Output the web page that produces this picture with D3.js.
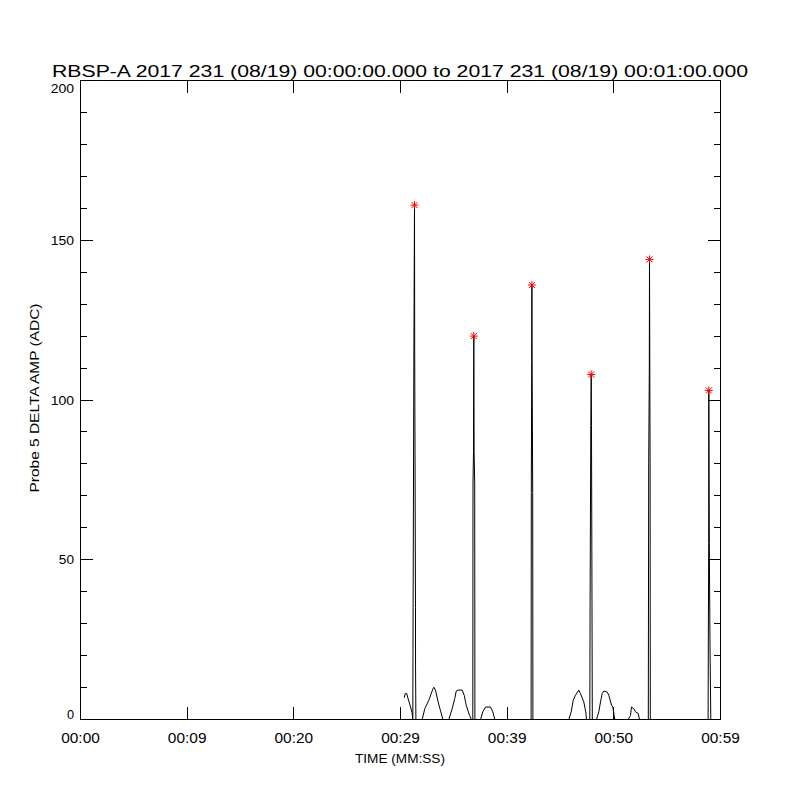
<!DOCTYPE html>
<html>
<head>
<meta charset="utf-8">
<script src="https://cdn.jsdelivr.net/npm/d3@7"></script>
<style>
  html, body { margin: 0; padding: 0; background: #fff; }
  svg { display: block; }
  text { fill: #000; }
</style>
</head>
<body>
<svg id="chart" width="800" height="800"></svg>
<script>
// ---- data (time in seconds from 00:00:00, amplitude in ADC) ----
const titleText = "RBSP-A 2017 231 (08/19) 00:00:00.000 to 2017 231 (08/19) 00:01:00.000";
const xLabel = "TIME (MM:SS)";
const yLabel = "Probe 5 DELTA AMP (ADC)";

const xTickValues = [0, 10, 20, 30, 40, 50, 60];
const xTickLabels = ["00:00", "00:09", "00:20", "00:29", "00:39", "00:50", "00:59"];
const yMajorTicks = [0, 50, 100, 150, 200];
const yMinorTicks = [10, 20, 30, 40, 60, 70, 80, 90, 110, 120, 130, 140, 160, 170, 180, 190];

// waveform trace
const traceTime = [
  30.347, 30.441, 30.591, 30.684, 30.891, 31.078, 31.153,
  31.181, 31.256, 31.313, 31.331, 31.406, 31.410, 31.444,
  32.034, 32.278, 32.653, 33.028, 33.122, 33.281, 33.534, 33.778, 33.966,
  34.528, 34.847, 35.091, 35.222, 35.409, 35.784, 35.972, 36.159, 36.469, 36.656,
  36.778, 36.797, 36.844, 36.872, 36.900, 36.956, 36.975,
  37.500, 37.716, 37.969, 38.438, 38.653, 38.841,
  42.244, 42.263, 42.300, 42.319, 42.338, 42.394, 42.413,
  45.778, 46.003, 46.191, 46.406, 46.716, 46.875, 47.184, 47.372, 47.438,
  47.747, 47.775, 47.841, 47.878, 47.906, 47.953, 47.981,
  48.375, 48.591, 48.750, 48.909, 49.059, 49.378, 49.528, 49.781, 49.903, 50.091,
  51.347, 51.563, 51.656, 51.872, 52.031, 52.284, 52.406,
  53.231, 53.269, 53.325, 53.344, 53.372, 53.400, 53.419,
  58.838, 58.856, 58.894, 58.903, 58.950, 59.016, 59.091
];
const traceValue = [
  6.8, 8.1, 8.1, 6.8, 4.5, 2.2, 0,
  35, 116, 161, 116, 35, 17, 0,
  0, 3.4, 6.0, 9.5, 10.1, 9.2, 5.4, 2.4, 0,
  0, 3.4, 6.6, 8.9, 9.2, 9.2, 7.6, 4.5, 1.3, 0,
  0, 74, 84, 120, 84, 74, 0,
  0, 2.4, 3.9, 3.9, 2.4, 0,
  0, 71, 112, 136, 112, 71, 0,
  0, 2.4, 6.0, 7.6, 9.2, 8.1, 5.5, 2.4, 0,
  0, 37, 92, 108, 92, 37, 0,
  0, 2.4, 5.5, 8.1, 8.9, 8.6, 7.6, 4.5, 3.9, 0,
  0, 1.3, 3.9, 3.4, 2.4, 1.9, 0,
  0, 80, 109, 144, 109, 80, 0,
  0, 23, 55, 103, 55, 23, 0
];

// peak markers
const peakTime = [31.313, 36.872, 42.319, 47.878, 53.344, 58.903];
const peakValue = [161, 120, 136, 108, 144, 103];

// ---- drawing ----
const svg = d3.select("#chart");
const plotLeft = 80, plotRight = 720, plotTop = 80, plotBottom = 719;

const x = d3.scaleLinear().domain([0, 60]).range([plotLeft, plotRight]);
const y = d3.scaleLinear().domain([0, 200]).range([plotBottom, plotTop]);

const font = "'Liberation Sans', 'DejaVu Sans', Arial, sans-serif";

// frame
svg.append("rect")
  .attr("x", plotLeft + 0.5).attr("y", plotTop + 0.5)
  .attr("width", plotRight - plotLeft).attr("height", plotBottom - plotTop)
  .attr("fill", "none").attr("stroke", "#000").attr("stroke-width", 1)
  .attr("shape-rendering", "crispEdges");

function styleAxis(g) {
  g.select(".domain").remove();
  g.selectAll(".tick line").attr("stroke", "#000").attr("shape-rendering", "crispEdges");
}

// bottom axis (major ticks + labels)
const gx = svg.append("g").attr("transform", `translate(0,${plotBottom + 1})`)
  .call(d3.axisBottom(x).tickValues(xTickValues).tickSize(-13)
    .tickFormat((d, i) => xTickLabels[i]))
  .call(styleAxis);
gx.selectAll(".tick text")
  .attr("y", 23).attr("dy", null)
  .attr("font-family", font).attr("font-size", 15)
  .attr("textLength", 38.6).attr("lengthAdjust", "spacingAndGlyphs");

// top axis (ticks only)
svg.append("g").attr("transform", `translate(0,${plotTop})`)
  .call(d3.axisTop(x).tickValues(xTickValues).tickSize(-13).tickFormat(""))
  .call(styleAxis);

// left axis
const gy = svg.append("g").attr("transform", `translate(${plotLeft},0)`)
  .call(d3.axisLeft(y).tickValues(yMajorTicks).tickSize(-13).tickPadding(6)
    .tickFormat(d3.format("d")))
  .call(styleAxis);
gy.selectAll(".tick text")
  .attr("font-family", font).attr("font-size", 12.5)
  .attr("textLength", d => String(d).length * 8.1 - 1)
  .attr("lengthAdjust", "spacingAndGlyphs")
  .attr("dy", d => d === 200 ? "1.0em" : (d === 0 ? "-0.02em" : "0.36em"));

svg.append("g").attr("transform", `translate(${plotLeft},0)`)
  .call(d3.axisLeft(y).tickValues(yMinorTicks).tickSize(-7).tickFormat(""))
  .call(styleAxis);

// right axis (ticks only)
svg.append("g").attr("transform", `translate(${plotRight + 1},0)`)
  .call(d3.axisRight(y).tickValues(yMajorTicks).tickSize(-13).tickFormat(""))
  .call(styleAxis);
svg.append("g").attr("transform", `translate(${plotRight + 1},0)`)
  .call(d3.axisRight(y).tickValues(yMinorTicks).tickSize(-7).tickFormat(""))
  .call(styleAxis);

// trace
const trace = traceTime.map((t, i) => [t, traceValue[i]]);
svg.append("path")
  .datum(trace)
  .attr("d", d3.line().x(d => x(d[0])).y(d => y(d[1])))
  .attr("fill", "none").attr("stroke", "#000").attr("stroke-width", 1)
  .attr("transform", "translate(0.5,0.5)");

// peak markers (asterisks)
const star = "M-4,0H4M0,-4V4M-3,-3L3,3M-3,3L3,-3";
svg.append("g").selectAll("path")
  .data(peakTime.map((t, i) => [t, peakValue[i]]))
  .join("path")
  .attr("transform", d => `translate(${x(d[0]) + 0.5},${y(d[1]) + 0.5})`)
  .attr("d", star)
  .attr("fill", "none").attr("stroke", "#ff0000").attr("stroke-width", 1);

// title
svg.append("text")
  .attr("x", 400).attr("y", 77)
  .attr("text-anchor", "middle")
  .attr("font-family", font).attr("font-size", 16.3)
  .attr("textLength", 696).attr("lengthAdjust", "spacingAndGlyphs")
  .text(titleText);

// axis titles
svg.append("text")
  .attr("x", 400).attr("y", 763)
  .attr("text-anchor", "middle")
  .attr("font-family", font).attr("font-size", 12.5)
  .attr("textLength", 90).attr("lengthAdjust", "spacingAndGlyphs")
  .text(xLabel);

svg.append("text")
  .attr("transform", "translate(39,398) rotate(-90)")
  .attr("text-anchor", "middle")
  .attr("font-family", font).attr("font-size", 12.5)
  .attr("textLength", 189).attr("lengthAdjust", "spacingAndGlyphs")
  .text(yLabel);
</script>
</body>
</html>
